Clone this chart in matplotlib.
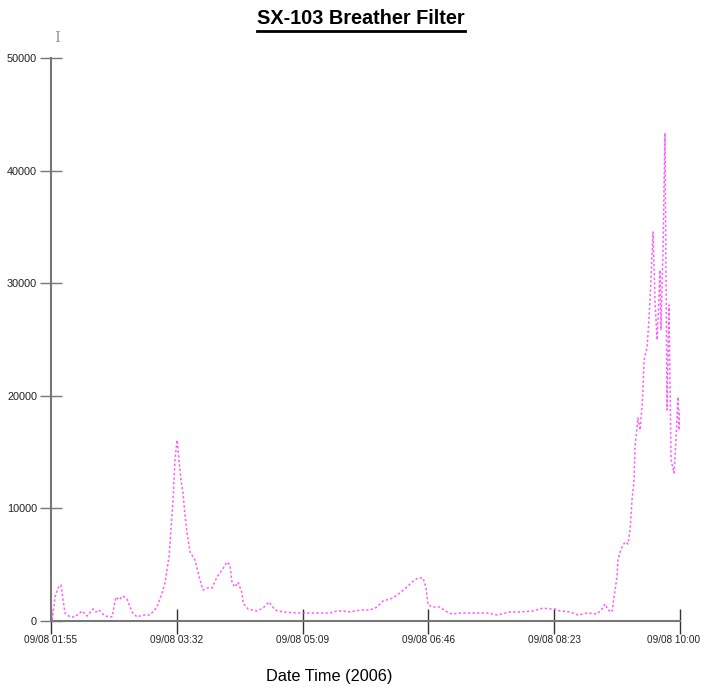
import numpy as np
import matplotlib
matplotlib.use('Agg')
import matplotlib.pyplot as plt
from matplotlib.lines import Line2D
from matplotlib.transforms import ScaledTranslation

# minutes after 09/08 01:55
minutes = [1, 3.1, 5.4, 7.7, 9.3, 10.8, 14.7, 18.5, 23.9, 27.8, 32.4, 34.7, 37.0, 41.6,
           47.0, 50.1, 52.4, 55.5, 58.6, 62.5, 66.3, 70.9, 76.3, 81.7, 85.6, 87.9, 89.4,
           91.0, 92.5, 94.1, 95.6, 97.2, 98.7, 100.2, 101.8, 103.3, 104.9, 107.2, 111.0,
           114.9, 117.2, 120.3, 124.1, 128.0, 131.9, 135.7, 138.0, 139.6, 141.9, 144.2,
           147.3, 148.1, 151.9, 158.8, 163.5, 168.1, 172.7, 178.9, 189.7, 199.7, 215.1,
           220.5, 225.2, 230.6, 238.3, 246.0, 251.4, 256.0, 263.7, 269.1, 274.5, 278.4,
           283.0, 286.9, 289.2, 290.7, 294.6, 300.0, 303.8, 309.2, 315.4, 325.4, 336.2,
           343.9, 353.9, 361.6, 371.7, 379.4, 384.8, 388.6, 392.5, 400.2, 406.4, 413.3,
           421.0, 424.9, 427.2, 429.5, 432.6, 434.1, 436.4, 437.2, 439.5, 442.6, 444.9,
           446.5, 448.0, 449.6, 450.3, 451.9, 452.6, 454.2, 455.7, 456.5, 457.3, 459.6,
           460.4, 461.9, 464.2, 465.7, 467.3, 468.0, 469.6, 470.3, 471.9, 473.4, 475.0,
           476.5, 478.1, 480.4, 481.9, 483.5, 484.2, 485.0]
values = [100, 2130, 2930, 3200, 1870, 710, 360, 360, 890, 440, 1070, 800, 980, 440,
          360, 2130, 1870, 2220, 1950, 800, 360, 530, 530, 1240, 2490, 3370, 4530,
          5680, 8080, 10750, 14300, 16070, 14300, 12520, 11370, 9410, 7820, 6130, 5420,
          3640, 2750, 2930, 2930, 3910, 4530, 5240, 4970, 3370, 3020, 3460,
          2490, 1600, 1070, 890, 1150, 1690, 980, 800, 710, 710, 710,
          890, 890, 800, 980, 980, 1240, 1780, 2040, 2490, 3020, 3460,
          3820, 3820, 2930, 1420, 1240, 1240, 890, 620, 710, 710, 710,
          530, 800, 800, 890, 1150, 1070, 1070, 890, 800, 530, 710,
          620, 1070, 1510, 980, 800, 2130, 3910, 5420, 6390, 7020, 6840,
          8080, 10750, 12520, 15450, 17230, 18030, 16960, 19010, 20520, 23180, 24330,
          25580, 28510, 34550, 28510, 24960, 26730, 31170, 25840, 32950, 43340, 18740,
          28060, 14300, 13140, 16070, 19890, 16960, 18740]

tick_minutes = [0, 97, 194, 291, 388, 485]
tick_labels = ['09/08 01:55', '09/08 03:32', '09/08 05:09', '09/08 06:46', '09/08 08:23', '09/08 10:00']
y_ticks = [0, 10000, 20000, 30000, 40000, 50000]

plt.rcParams['font.family'] = ['Liberation Sans', 'DejaVu Sans']

fig = plt.figure(figsize=(7.04, 6.88), dpi=100)
ax = fig.add_axes([51 / 704, 1 - 621 / 688, 629 / 704, 563 / 688])

ax.plot(minutes, values, color='#ff33ff', lw=1.1, linestyle=(0, (1.5, 1.5)), alpha=0.8)

ax.set_xlim(0, 485)
ax.set_ylim(0, 50000)
for s in ['top', 'right']:
    ax.spines[s].set_visible(False)
for s in ['left', 'bottom']:
    ax.spines[s].set_color('#777777')
    ax.spines[s].set_linewidth(1.5)

ax.set_yticks(y_ticks)
ax.set_yticklabels([str(v) for v in y_ticks])
ax.tick_params(axis='y', direction='inout', length=16, width=1, color='#777777',
               labelsize=7.8, pad=2, labelcolor='#222222')
ax.set_xticks(tick_minutes)
ax.set_xticklabels(tick_labels)
ax.tick_params(axis='x', direction='inout', length=18, width=1, color='#333333',
               labelsize=7.2, pad=1, labelcolor='#222222')
# last label would run off the right edge, nudge it left
last = ax.get_xticklabels()[-1]
last.set_transform(last.get_transform() + ScaledTranslation(-0.06, 0, fig.dpi_scale_trans))

title = fig.text(361 / 704, 1 - 19 / 688, 'SX-103 Breather Filter', ha='center', va='center',
                 fontsize=14.3, fontweight='bold')
fig.canvas.draw()
bb = title.get_window_extent().transformed(fig.transFigure.inverted())
fig.add_artist(Line2D([bb.x0, bb.x1], [bb.y0 - 0.003, bb.y0 - 0.003], color='black', lw=2,
                      transform=fig.transFigure))

fig.text(57 / 704, 1 - 38 / 688, 'I', ha='center', va='center', fontsize=11, color='#999999',
         family='DejaVu Serif')
fig.text(329 / 704, 1 - 676 / 688, 'Date Time (2006)', ha='center', va='center', fontsize=11.7)

fig.savefig('out.png', dpi=100)
